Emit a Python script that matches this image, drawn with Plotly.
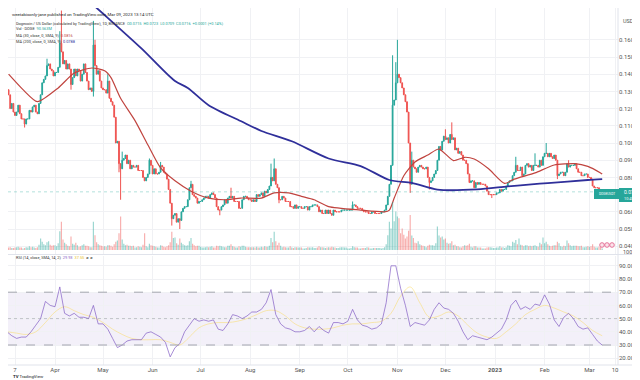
import plotly.graph_objects as go
import pandas as pd

W, H = 640, 380

# ---------------- data ----------------
start_day = "2022-03-03"
first_open = 0.131

close_2022_03 = [0.128, 0.120, 0.123, 0.118, 0.116, 0.118, 0.122, 0.117, 0.114, 0.114,
                 0.111, 0.114, 0.114, 0.119, 0.118, 0.121, 0.122, 0.118, 0.117, 0.123,
                 0.128, 0.135, 0.137, 0.139, 0.145, 0.146, 0.143, 0.142, 0.139]
close_2022_04 = [0.141, 0.141, 0.144, 0.158, 0.153, 0.146, 0.148, 0.143, 0.146, 0.143,
                 0.134, 0.138, 0.143, 0.139, 0.143, 0.142, 0.136, 0.140, 0.146, 0.141,
                 0.136, 0.131, 0.132, 0.130, 0.157, 0.145, 0.140, 0.142, 0.136, 0.132]
close_2022_05 = [0.131, 0.131, 0.129, 0.136, 0.126, 0.124, 0.122, 0.115, 0.100, 0.101,
                 0.088, 0.085, 0.090, 0.091, 0.093, 0.088, 0.090, 0.085, 0.087, 0.086,
                 0.086, 0.087, 0.084, 0.084, 0.084, 0.080, 0.078, 0.080, 0.082, 0.090, 0.087]
close_2022_06 = [0.082, 0.085, 0.082, 0.082, 0.083, 0.087, 0.086, 0.083, 0.082, 0.079,
                 0.073, 0.065, 0.056, 0.058, 0.059, 0.054, 0.056, 0.055, 0.060, 0.062,
                 0.063, 0.063, 0.067, 0.074, 0.076, 0.070, 0.069, 0.068, 0.065, 0.066]
close_2022_07 = [0.066, 0.067, 0.068, 0.069, 0.069, 0.068, 0.070, 0.071, 0.070, 0.068,
                 0.063, 0.061, 0.061, 0.063, 0.064, 0.067, 0.065, 0.068, 0.069, 0.068,
                 0.069, 0.066, 0.066, 0.066, 0.062, 0.062, 0.067, 0.069, 0.069, 0.068, 0.067]
close_2022_08 = [0.067, 0.066, 0.067, 0.066, 0.070, 0.069, 0.070, 0.071, 0.069, 0.072,
                 0.071, 0.073, 0.075, 0.080, 0.078, 0.085, 0.076, 0.074, 0.067, 0.067,
                 0.069, 0.068, 0.066, 0.066, 0.066, 0.063, 0.063, 0.062, 0.064, 0.062, 0.063]
close_2022_09 = [0.063, 0.062, 0.062, 0.063, 0.063, 0.061, 0.063, 0.063, 0.064, 0.064,
                 0.064, 0.063, 0.060, 0.061, 0.059, 0.059, 0.061, 0.059, 0.061, 0.059,
                 0.058, 0.061, 0.060, 0.060, 0.060, 0.060, 0.061, 0.061, 0.061, 0.061]
close_2022_10 = [0.061, 0.061, 0.061, 0.064, 0.064, 0.063, 0.062, 0.062, 0.062, 0.061,
                 0.060, 0.060, 0.060, 0.059, 0.059, 0.060, 0.060, 0.059, 0.059, 0.059,
                 0.059, 0.060, 0.060, 0.061, 0.064, 0.069, 0.076, 0.087, 0.122, 0.125, 0.135]
close_2022_11 = [0.140, 0.138, 0.135, 0.132, 0.128, 0.124, 0.118, 0.100, 0.076, 0.090,
                 0.086, 0.085, 0.083, 0.086, 0.087, 0.086, 0.085, 0.085, 0.086, 0.080,
                 0.077, 0.078, 0.080, 0.082, 0.084, 0.090, 0.098, 0.096, 0.101, 0.104]
close_2022_12 = [0.102, 0.103, 0.100, 0.105, 0.102, 0.103, 0.096, 0.097, 0.094, 0.095,
                 0.093, 0.090, 0.090, 0.088, 0.082, 0.077, 0.078, 0.078, 0.074, 0.077,
                 0.076, 0.077, 0.076, 0.076, 0.076, 0.075, 0.072, 0.070, 0.070, 0.070, 0.070]
close_2023_01 = [0.070, 0.071, 0.071, 0.073, 0.072, 0.073, 0.073, 0.075, 0.077, 0.078,
                 0.078, 0.081, 0.083, 0.087, 0.084, 0.084, 0.086, 0.081, 0.082, 0.087,
                 0.088, 0.086, 0.087, 0.084, 0.087, 0.087, 0.087, 0.086, 0.090, 0.087, 0.092]
close_2023_02 = [0.094, 0.094, 0.092, 0.094, 0.092, 0.091, 0.093, 0.090, 0.081, 0.082,
                 0.083, 0.083, 0.081, 0.083, 0.088, 0.086, 0.087, 0.087, 0.087, 0.088,
                 0.085, 0.083, 0.083, 0.081, 0.081, 0.082, 0.082, 0.080]
close_2023_03 = [0.080, 0.079, 0.075, 0.074, 0.074, 0.074, 0.073, 0.070, 0.0716]

# daily volume, billions of DOGE
vol_2022_03 = [0.5, 0.6, 0.4, 0.4, 0.5, 0.6, 0.7, 0.5, 0.5, 0.3,
               0.4, 0.6, 0.5, 0.8, 0.6, 0.7, 0.5, 0.4, 0.6, 1.1,
               2.4, 1.7, 1.2, 1.0, 1.6, 1.8, 1.1, 0.9, 1.0]
vol_2022_04 = [1.0, 0.8, 1.4, 3.9, 5.9, 2.2, 1.5, 1.2, 0.9, 0.8,
               2.8, 1.3, 1.1, 1.5, 1.0, 0.7, 0.8, 1.0, 1.2, 0.9,
               0.9, 0.8, 0.6, 0.6, 5.9, 3.1, 1.6, 1.2, 1.0, 0.9]
vol_2022_05 = [0.8, 0.8, 0.7, 1.0, 1.0, 0.9, 0.7, 1.2, 1.7, 2.0,
               3.5, 7.0, 2.2, 1.3, 1.0, 1.1, 0.9, 0.9, 0.8, 0.9,
               0.5, 0.6, 0.8, 0.7, 0.6, 1.1, 3.5, 0.8, 0.6, 1.3, 1.0]
vol_2022_06 = [0.9, 0.8, 0.7, 0.5, 0.5, 1.0, 0.9, 0.7, 0.6, 0.8,
               1.0, 1.6, 3.8, 2.5, 2.6, 1.4, 1.1, 2.4, 1.5, 1.2,
               1.0, 0.9, 1.0, 1.8, 2.5, 1.3, 1.0, 0.8, 0.9, 0.9]
vol_2022_07 = [0.7, 0.5, 0.5, 0.6, 0.7, 0.6, 0.7, 0.8, 0.5, 0.5,
               0.9, 0.8, 0.9, 0.8, 0.7, 0.6, 0.6, 0.9, 0.9, 1.2,
               0.8, 0.7, 0.5, 0.5, 0.8, 0.7, 0.9, 0.9, 0.7, 0.6, 0.6]
vol_2022_08 = [0.6, 0.6, 0.6, 0.5, 0.7, 0.5, 0.5, 0.7, 0.6, 0.8,
               0.7, 0.7, 0.9, 2.5, 1.6, 3.8, 1.8, 1.0, 1.5, 0.9,
               0.6, 0.7, 0.6, 0.5, 0.5, 0.8, 0.5, 0.4, 0.6, 0.6, 0.5]
vol_2022_09 = [0.5, 0.5, 0.3, 0.3, 0.4, 0.6, 0.5, 0.5, 0.6, 0.4,
               0.4, 0.5, 0.8, 0.6, 0.6, 0.5, 0.4, 0.5, 0.6, 0.5,
               0.7, 0.6, 0.5, 0.4, 0.4, 0.5, 0.6, 0.6, 0.5, 0.5]
vol_2022_10 = [0.3, 0.3, 0.4, 0.8, 0.6, 0.5, 0.5, 0.3, 0.3, 0.4,
               0.4, 0.4, 0.6, 0.5, 0.3, 0.3, 0.4, 0.4, 0.4, 0.4,
               0.4, 0.3, 0.4, 0.6, 1.2, 3.1, 5.9, 4.5, 10.0, 6.0, 8.0]
vol_2022_11 = [7.0, 6.6, 3.5, 4.5, 3.2, 2.4, 2.8, 4.0, 7.3, 3.0,
               2.5, 1.5, 1.4, 1.8, 1.2, 1.0, 0.9, 0.8, 0.6, 0.9,
               1.1, 1.0, 1.0, 0.9, 1.4, 4.9, 3.0, 2.6, 2.8, 2.2]
vol_2022_12 = [2.4, 1.5, 1.3, 1.4, 1.8, 1.0, 1.1, 0.8, 0.8, 0.6,
               0.5, 0.8, 1.0, 0.9, 1.0, 1.3, 0.7, 0.5, 0.8, 0.8,
               0.5, 0.5, 0.5, 0.3, 0.3, 0.3, 0.5, 0.6, 0.6, 0.5, 0.4]
vol_2023_01 = [0.4, 0.5, 0.5, 0.8, 0.5, 0.6, 0.4, 0.6, 1.0, 0.9,
               0.8, 1.7, 1.5, 2.1, 1.2, 2.4, 1.1, 1.0, 0.8, 1.0,
               1.0, 0.8, 0.9, 0.8, 0.9, 1.0, 0.8, 0.7, 1.5, 1.2, 2.6]
vol_2023_02 = [1.4, 1.7, 1.2, 0.9, 0.8, 0.9, 1.0, 1.0, 1.7, 1.4,
               0.8, 0.7, 0.9, 0.8, 2.0, 1.4, 1.0, 0.8, 0.9, 0.9,
               0.9, 0.8, 0.8, 0.9, 0.6, 0.6, 0.7, 0.8]
vol_2023_03 = [0.7, 0.8, 1.2, 0.7, 0.5, 0.5, 0.7, 1.0, 0.3]

# visible wick extremes
wick_high = {
    "2022-03-27": 0.149, "2022-04-04": 0.165, "2022-04-05": 0.177, "2022-04-25": 0.171,
    "2022-04-26": 0.160, "2022-05-04": 0.140, "2022-05-13": 0.095, "2022-05-30": 0.091,
    "2022-06-06": 0.089, "2022-06-25": 0.078, "2022-07-20": 0.074, "2022-08-14": 0.088,
    "2022-08-16": 0.091, "2022-10-04": 0.066, "2022-10-29": 0.151, "2022-10-31": 0.147,
    "2022-11-01": 0.160, "2022-11-10": 0.095, "2022-12-01": 0.108, "2022-12-05": 0.112,
    "2023-01-14": 0.092, "2023-01-26": 0.094, "2023-02-02": 0.100, "2023-02-16": 0.090,
    "2023-03-09": 0.0723,
}
wick_low = {
    "2022-03-13": 0.109, "2022-04-11": 0.131, "2022-04-25": 0.127, "2022-05-11": 0.083,
    "2022-05-12": 0.067, "2022-06-13": 0.052, "2022-06-18": 0.050, "2022-07-13": 0.058,
    "2022-08-19": 0.065, "2022-11-09": 0.071, "2022-11-21": 0.073, "2022-12-30": 0.068,
    "2023-02-09": 0.079, "2023-03-09": 0.0709,
}

ma30_dates = ["2022-03-03", "2022-03-12", "2022-03-21", "2022-04-03", "2022-04-13", "2022-04-24",
              "2022-05-02", "2022-05-06", "2022-05-12", "2022-05-21", "2022-05-29", "2022-06-06",
              "2022-06-15", "2022-06-25", "2022-07-06", "2022-07-16", "2022-07-26", "2022-08-08",
              "2022-08-16", "2022-08-25", "2022-09-02", "2022-09-10", "2022-09-19", "2022-10-09",
              "2022-10-24", "2022-10-27", "2022-10-30", "2022-11-05", "2022-11-12", "2022-11-20",
              "2022-11-27", "2022-12-06", "2022-12-13", "2022-12-19", "2022-12-28", "2023-01-07",
              "2023-01-13", "2023-01-26", "2023-02-07", "2023-02-20", "2023-02-28", "2023-03-08",
              "2023-03-09"]
ma30_vals = [0.1400, 0.1310, 0.1240, 0.1320, 0.1407, 0.1436,
             0.1420, 0.1380, 0.1260, 0.1130, 0.0990, 0.0855,
             0.0780, 0.0720, 0.0680, 0.0670, 0.0680, 0.0680,
             0.0710, 0.0710, 0.0690, 0.0670, 0.0630, 0.0610,
             0.0600, 0.0610, 0.0680, 0.0810, 0.0890, 0.0930,
             0.0965, 0.0898, 0.0917, 0.0907, 0.0850, 0.0765,
             0.0790, 0.0826, 0.0872, 0.0880, 0.0864, 0.0826,
             0.0820]

ma200_dates = ["2022-04-24", "2022-05-02", "2022-05-25", "2022-06-15", "2022-06-23", "2022-07-06",
               "2022-07-26", "2022-08-08", "2022-08-27", "2022-09-19", "2022-10-09", "2022-10-27",
               "2022-11-10", "2022-11-26", "2022-12-21", "2023-01-09", "2023-01-22", "2023-02-03",
               "2023-02-28", "2023-03-09"]
ma200_vals = [0.1810, 0.1744, 0.1550, 0.1360, 0.1320, 0.1220,
              0.1128, 0.1070, 0.1010, 0.0910, 0.0866, 0.0785,
              0.0768, 0.0729, 0.0730, 0.0748, 0.0758, 0.0767,
              0.0785, 0.0790]

# RSI read every 3 days from 2022-03-02, its moving average every 6 days
rsi_start = "2022-03-02"
rsi_vals = [40, 37, 35, 36, 36, 40, 45, 50, 63, 60, 59, 74, 54, 52, 54, 51, 51, 50, 60, 46,
            46, 42, 35, 28, 30, 33, 34, 34, 34, 39, 40, 38, 36, 32, 21, 28, 31, 40, 45, 50,
            48, 49, 48, 49, 42, 41, 46, 53, 52, 50, 52, 55, 55, 57, 62, 72, 53, 46, 43, 42,
            40, 40, 41, 44, 40, 44, 41, 39, 47, 47, 46, 48, 57, 49, 45, 44, 42, 43, 46, 62,
            90, 90, 73, 60, 44, 47, 46, 45, 49, 57, 62, 58, 57, 54, 48, 40, 34, 37, 36, 35,
            34, 36, 39, 42, 49, 60, 64, 57, 59, 57, 61, 60, 68, 61, 49, 44, 51, 54, 50, 44,
            42, 43, 38, 33, 29.93]
rsi_ma_vals = [40, 39, 38, 40, 47, 55, 59, 56, 53, 51, 47, 42, 38, 35, 34, 34, 34, 32, 30, 36,
               43, 46, 47, 47, 48, 50, 53, 56, 56, 52, 46, 43, 42, 42, 43, 45, 46, 46, 47, 48,
               54, 67, 74, 62, 51, 52, 55, 52, 45, 39, 36, 35, 40, 46, 53, 57, 60, 58, 55, 52,
               47, 41, 37]

month_ticks = ["2022-03-07", "2022-04-01", "2022-05-01", "2022-06-01", "2022-07-01", "2022-08-01",
               "2022-09-01", "2022-10-01", "2022-11-01", "2022-12-01", "2023-01-01", "2023-02-01",
               "2023-03-01", "2023-03-17"]
month_labels = ["7", "Apr", "May", "Jun", "Jul", "Aug", "Sep", "Oct", "Nov", "Dec",
                "<b>2023</b>", "Feb", "Mar", "10"]
price_ticks = [0.04, 0.05, 0.06, 0.08, 0.09, 0.10, 0.11, 0.12, 0.13, 0.14, 0.15, 0.16]
rsi_ticks = [20, 30, 40, 50, 60, 70, 80, 90]
last_price = 0.0716

# ---------------- assemble ----------------
close = (close_2022_03 + close_2022_04 + close_2022_05 + close_2022_06 + close_2022_07 +
         close_2022_08 + close_2022_09 + close_2022_10 + close_2022_11 + close_2022_12 +
         close_2023_01 + close_2023_02 + close_2023_03)
volume = (vol_2022_03 + vol_2022_04 + vol_2022_05 + vol_2022_06 + vol_2022_07 +
          vol_2022_08 + vol_2022_09 + vol_2022_10 + vol_2022_11 + vol_2022_12 +
          vol_2023_01 + vol_2023_02 + vol_2023_03)
dates = pd.date_range(start_day, periods=len(close), freq="D")
opens = [first_open] + close[:-1]
high = [max(o, c) for o, c in zip(opens, close)]
low = [min(o, c) for o, c in zip(opens, close)]
keys = [d.strftime("%Y-%m-%d") for d in dates]
for k, v in wick_high.items():
    i = keys.index(k)
    high[i] = max(high[i], v)
for k, v in wick_low.items():
    i = keys.index(k)
    low[i] = min(low[i], v)

UP, DN = "#26a69a", "#ef5350"
vol_colors = ["rgba(38,166,154,0.45)" if c >= o else "rgba(239,83,80,0.45)"
              for o, c in zip(opens, close)]
rsi_dates = pd.date_range(rsi_start, periods=len(rsi_vals), freq="3D")
rsi_ma_dates = pd.date_range(rsi_start, periods=len(rsi_ma_vals), freq="6D")


def px(x):
    return x / W


def py(y):
    return 1 - y / H


PLOT_R = px(610)
FONT = "Roboto, Liberation Sans, sans-serif"

fig = go.Figure()
fig.add_trace(go.Bar(x=dates, y=volume, marker=dict(color=vol_colors, line=dict(width=0)),
                     xaxis="x", yaxis="y3", hoverinfo="skip"))
fig.add_trace(go.Candlestick(
    x=dates, open=opens, high=high, low=low, close=close,
    increasing=dict(line=dict(color=UP, width=1), fillcolor=UP),
    decreasing=dict(line=dict(color=DN, width=1), fillcolor=DN),
    whiskerwidth=0, xaxis="x", yaxis="y", hoverinfo="skip"))
fig.add_trace(go.Scatter(x=ma30_dates, y=ma30_vals, mode="lines",
                         line=dict(color="#c0443f", width=1.2, shape="spline", smoothing=0.6),
                         xaxis="x", yaxis="y", hoverinfo="skip"))
fig.add_trace(go.Scatter(x=ma200_dates, y=ma200_vals, mode="lines",
                         line=dict(color="#2f2f9a", width=1.8, shape="spline", smoothing=0.8),
                         xaxis="x", yaxis="y", hoverinfo="skip"))
fig.add_trace(go.Scatter(x=rsi_ma_dates, y=rsi_ma_vals, mode="lines",
                         line=dict(color="rgba(250,215,80,0.45)", width=1, shape="spline"),
                         xaxis="x2", yaxis="y2", hoverinfo="skip"))
fig.add_trace(go.Scatter(x=rsi_dates, y=rsi_vals, mode="lines",
                         line=dict(color="rgba(126,87,194,0.85)", width=0.8),
                         xaxis="x2", yaxis="y2", hoverinfo="skip"))

x_range = ["2022-03-02 15:00", "2023-03-18 21:00"]
grid = "#f0f1f4"
tickfont = dict(family=FONT, size=6, color="#555")

shapes = [
    # RSI band and levels
    dict(type="rect", xref="x2 domain", yref="y2", x0=0, x1=1, y0=30, y1=70,
         fillcolor="rgba(126,87,194,0.09)", line=dict(width=0), layer="below"),
    dict(type="line", xref="x2 domain", yref="y2", x0=0, x1=1, y0=70, y1=70,
         line=dict(color="#a3a6af", width=1, dash="dash")),
    dict(type="line", xref="x2 domain", yref="y2", x0=0, x1=1, y0=30, y1=30,
         line=dict(color="#a3a6af", width=1, dash="dash")),
    dict(type="line", xref="x2 domain", yref="y2", x0=0, x1=1, y0=50, y1=50,
         line=dict(color="rgba(120,123,134,0.4)", width=1, dash="dot")),
    # last price line
    dict(type="line", xref="x domain", yref="y", x0=0, x1=1, y0=last_price, y1=last_price,
         line=dict(color="rgba(38,166,154,0.35)", width=1, dash="dot")),
    # pane separators
    dict(type="line", xref="paper", yref="paper", x0=0, x1=1, y0=py(246.5), y1=py(246.5),
         line=dict(color="#e0e3eb", width=1)),
    dict(type="line", xref="paper", yref="paper", x0=PLOT_R, x1=PLOT_R, y0=py(357), y1=1,
         line=dict(color="#e0e3eb", width=1)),
    dict(type="line", xref="paper", yref="paper", x0=0, x1=1, y0=py(357), y1=py(357),
         line=dict(color="#e0e3eb", width=1)),
    # last price boxes
    dict(type="rect", xref="paper", yref="paper", x0=px(586), x1=px(611), y0=py(191), y1=py(181),
         fillcolor=UP, line=dict(width=0)),
    dict(type="rect", xref="paper", yref="paper", x0=px(611), x1=px(636), y0=py(194), y1=py(180),
         fillcolor=UP, line=dict(width=0)),
]
for cx in (594, 599, 604):
    shapes.append(dict(type="circle", xref="paper", yref="paper",
                       x0=px(cx - 2.3), x1=px(cx + 2.3), y0=py(239.3), y1=py(234.7),
                       fillcolor="#fbe3ea", line=dict(color="#e57399", width=1)))

ann = []


def note(x, y, text, size=4.2, color="#333", anchor="left"):
    ann.append(dict(x=px(x), y=py(y), xref="paper", yref="paper", text=text, showarrow=False,
                    xanchor=anchor, yanchor="middle", borderpad=0,
                    font=dict(family=FONT, size=size, color=color)))


note(3, 6, "weetabixonly-jane published on TradingView.com, Mar 09, 2023 13:14 UTC", 4.3, "#222")
note(7, 15, "Dogecoin / US Dollar (calculated by TradingView), 1D, BINANCE  "
            "<span style='color:#26a69a'>O0.0715  H0.0723  L0.0709  C0.0716  +0.0001 (+0.14%)</span>",
     3.9, "#333")
note(7, 21, "Vol · DOGE  <span style='color:#26a69a'>90.563M</span>", 3.9, "#333")
note(7, 27, "MA (30, close, 0, SMA, 9)  <span style='color:#c0443f'>0.0816</span>", 3.9, "#333")
note(7, 33, "MA (200, close, 0, SMA, 9)  <span style='color:#2f2f9a'>0.0788</span>", 3.9, "#333")
note(7, 249, "RSI (14, close, SMA, 14, 2)  <span style='color:#7e57c2'>29.93</span>  "
             "<span style='color:#e6c230'>37.55</span>  ø  ø", 3.9, "#333")
note(614, 13, "USD", 5.5, "#555")
note(614, 244, "100.00", 5.5, "#555")
note(598.5, 186, "DOGEUSDT", 3.2, "white", "center")
note(623.5, 184, "0.0716", 5.0, "white", "center")
note(623.5, 190.5, "10:45:46", 3.8, "white", "center")
note(4, 368, "<b>TV</b> TradingView", 4.3, "#131722")

fig.update_layout(
    width=W, height=H, margin=dict(l=0, r=0, t=0, b=0),
    paper_bgcolor="white", plot_bgcolor="white", showlegend=False,
    bargap=0.25, shapes=shapes, annotations=ann,
    font=dict(family=FONT),
    xaxis=dict(domain=[0, PLOT_R], anchor="y", type="date", range=x_range,
               rangeslider=dict(visible=False), tickvals=month_ticks, showticklabels=False,
               showgrid=True, gridcolor=grid, gridwidth=1, zeroline=False, showline=False),
    xaxis2=dict(domain=[0, PLOT_R], anchor="y2", type="date", range=x_range, matches="x",
                tickvals=month_ticks, ticktext=month_labels, tickfont=tickfont,
                showgrid=True, gridcolor=grid, gridwidth=1, zeroline=False, showline=False,
                ticks="", automargin=False),
    yaxis=dict(domain=[py(246), 1], range=[0.03547, 0.17849], side="right", anchor="x",
               tickvals=price_ticks, ticktext=[f"{v:.4f}" for v in price_ticks],
               tickfont=tickfont, showgrid=True, gridcolor=grid, zeroline=False,
               ticks="", automargin=False),
    yaxis3=dict(overlaying="y", range=[-0.83, 50.4], visible=False, anchor="x"),
    yaxis2=dict(domain=[py(357), py(248)], range=[14.85, 97.42], side="right", anchor="x2",
                tickvals=rsi_ticks, ticktext=[f"{v:.2f}" for v in rsi_ticks],
                tickfont=tickfont, showgrid=True, gridcolor=grid, zeroline=False,
                ticks="", automargin=False),
)

fig.write_html("out.html")
